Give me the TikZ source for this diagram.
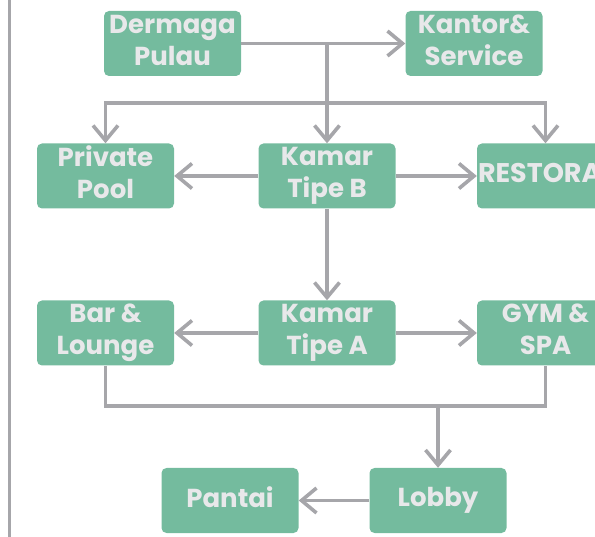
\documentclass[tikz,border=0pt]{standalone}
\usepackage{fontspec}
\setmainfont{Poppins}
\usetikzlibrary{arrows.meta}
\definecolor{boxgreen}{RGB}{116,187,158}
\definecolor{txtgray}{RGB}{232,232,234}
\definecolor{linegray}{RGB}{166,166,170}
\tikzset{
  box/.style={rectangle, rounded corners=5pt, fill=boxgreen, minimum width=137pt,
    minimum height=65pt, inner sep=0pt, text=txtgray,
    font=\bfseries\fontsize{26}{32}\selectfont, align=center, text depth=7pt},
  arr/.style={draw=linegray, line width=3.6pt,
    -{Straight Barb[length=15pt,width=25pt,line width=3.6pt]}},
  ln/.style={draw=linegray, line width=3.6pt},
}
\begin{document}
\begin{tikzpicture}[x=1pt,y=-1pt]
\useasboundingbox (0,0) rectangle (595,537);
\clip (0,0) rectangle (595,537);
\coordinate (lt) at (9.5,0);
\coordinate (lb) at (9.5,537);
\draw[draw=linegray, line width=3pt] (lt) -- (lb);

\node[box] (dp) at (172.5,43.5) {Dermaga\\Pulau};
\node[box] (ks) at (474,43.5) {Kantor\&\\Service};
\node[box] (pp) at (105.5,176) {Private\\Pool};
\node[box] (kb) at (327,176) {Kamar\\Tipe B};
\node[box, font=\bfseries\fontsize{27}{32}\selectfont] (rs) at (545.5,176) {\makebox[137pt][l]{\hspace{1pt}RESTORAN}};
\node[box] (bl) at (105.5,333) {Bar \&\\Lounge};
\node[box] (ka) at (327,333) {Kamar\\Tipe A};
\node[box] (gy) at (545.5,333) {GYM \&\\SPA};
\node[box] (pa) at (230,500.5) {Pantai};
\node[box] (lo) at (438,500.5) {Lobby};

\coordinate (j1) at (kb.north |- dp.east);
\coordinate (j2) at (327,103);
\coordinate (j3) at (438,406);

\draw[arr] (dp.east) -- (ks.west);
\draw[arr] (j1) -- (kb.north);
\draw[arr] (j2) -| (pp.north);
\draw[arr] (j2) -| (rs.north);
\draw[arr] (kb.west) -- (pp.east);
\draw[arr] (kb.east) -- (rs.west);
\draw[arr] (kb.south) -- (ka.north);
\draw[arr] (ka.west) -- (bl.east);
\draw[arr] (ka.east) -- (gy.west);
\draw[ln] (bl.south) |- (j3) -| (gy.south);
\draw[arr] (j3) -- (lo.north);
\draw[arr] (lo.west) -- (pa.east);
\end{tikzpicture}
\end{document}
